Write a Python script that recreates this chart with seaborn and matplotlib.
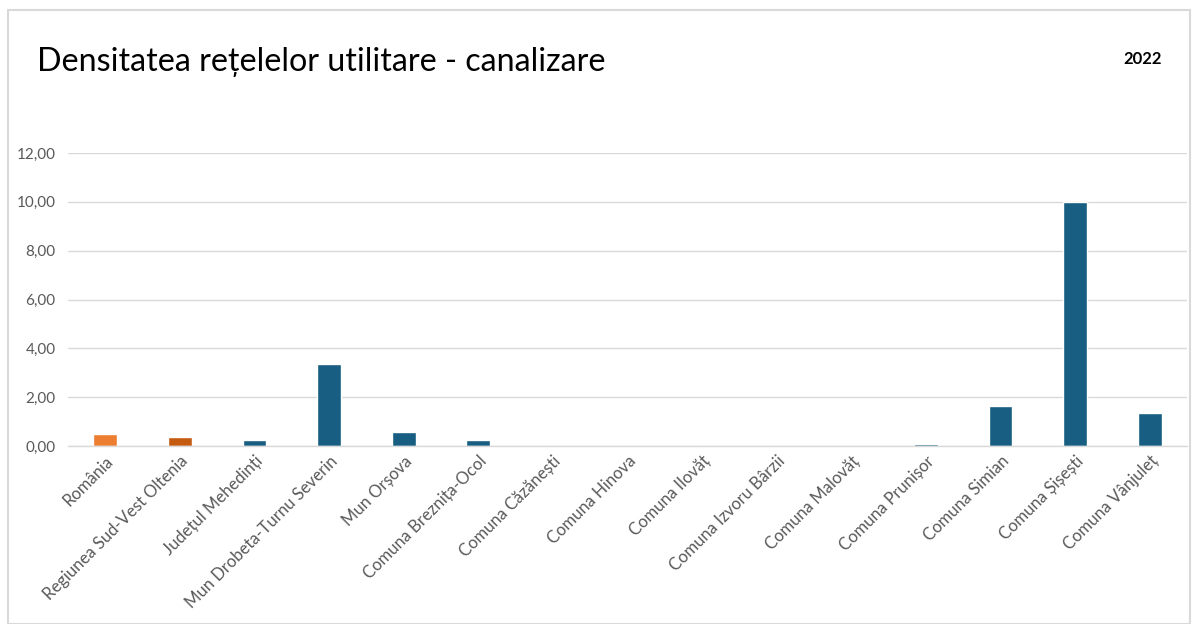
import matplotlib
matplotlib.use("Agg")
import matplotlib.pyplot as plt
import seaborn as sns
import pandas as pd
from matplotlib.ticker import FuncFormatter
from matplotlib.patches import Rectangle

categories = ["România", "Regiunea Sud-Vest Oltenia", "Județul Mehedinți",
              "Mun Drobeta-Turnu Severin", "Mun Orșova", "Comuna Breznița-Ocol",
              "Comuna Căzănești", "Comuna Hinova", "Comuna Ilovăț",
              "Comuna Izvoru Bârzii", "Comuna Malovăț", "Comuna Prunișor",
              "Comuna Simian", "Comuna Șișești", "Comuna Vânjuleț"]
values = [0.49, 0.37, 0.25, 3.36, 0.57, 0.25, 0.0, 0.0, 0.0, 0.0, 0.0, 0.07, 1.64, 10.0, 1.35]
bar_colors = ["#ED7D31", "#C55A11"] + ["#175E82"] * 13
title = "Densitatea rețelelor utilitare - canalizare"
year = "2022"

sns.set_theme(style="white")
plt.rcParams['font.family'] = ['Lato', 'DejaVu Sans']

df = pd.DataFrame({"cat": categories, "val": values})

fig = plt.figure(figsize=(11.98, 6.24), dpi=100)
ax = fig.add_axes([68/1198, 1-446/624, (1187-68)/1198, (446-153)/624])
sns.barplot(data=df, x="cat", y="val", hue="cat", palette=bar_colors,
            legend=False, width=0.32, ax=ax, saturation=1)

ax.set_ylim(0, 12)
ax.set_yticks([0, 2, 4, 6, 8, 10, 12])
ax.yaxis.set_major_formatter(FuncFormatter(lambda v, p: f"{v:.2f}".replace(".", ",")))
ax.grid(axis="y", color="#D9D9D9", linewidth=1)
ax.set_axisbelow(True)
for s in ["top", "right", "left"]:
    ax.spines[s].set_visible(False)
ax.spines["bottom"].set_color("#D9D9D9")
ax.spines["bottom"].set_linewidth(1)
ax.set_xlabel("")
ax.set_ylabel("")
ax.tick_params(axis="y", colors="#595959", labelsize=11, length=0, pad=9)
ax.tick_params(axis="x", colors="#595959", labelsize=12, length=0, pad=5)
plt.setp(ax.get_xticklabels(), rotation=45, ha="right", rotation_mode="anchor")

fig.text(37/1198, 1-62/624, title, fontsize=23.2, color="#000000", va="center", ha="left")
fig.text(1162/1198, 1-59/624, year, fontsize=12, fontweight="bold", color="#000000", va="center", ha="right")

fig.patches.append(Rectangle((8/1198, 0), 1182/1198, 1-10/624, transform=fig.transFigure,
                             fill=False, edgecolor="#D9D9D9", linewidth=1.5))

fig.savefig("out.png", dpi=100)
